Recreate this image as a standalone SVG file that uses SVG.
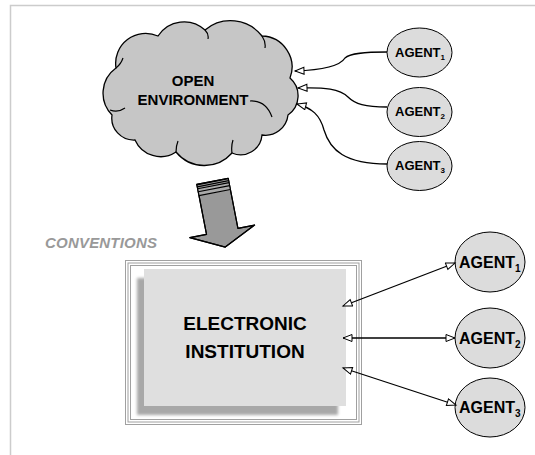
<svg xmlns="http://www.w3.org/2000/svg" width="535" height="455" viewBox="0 0 535 455">
<defs>
<style>
.lbl{font-family:"Liberation Sans",Arial,sans-serif;font-weight:bold;fill:#000}
.agT{font-size:13px}
.agB{font-size:16px}
.ag{fill:#dcdcdc;stroke:#000;stroke-width:1}
.con{fill:none;stroke:#000;stroke-width:1.3}
.frm{fill:none;stroke:#a0a0a0;stroke-width:1}
</style>
<marker id="oa" markerUnits="userSpaceOnUse" markerWidth="12" markerHeight="10" refX="10" refY="4" orient="auto-start-reverse">
<path d="M1,0.5 L10,4 L1,7.5 Z" fill="#fff" stroke="#000" stroke-width="1"/>
</marker>
<filter id="blur" x="-10%" y="-10%" width="120%" height="120%">
<feGaussianBlur stdDeviation="1.8"/>
</filter>
</defs>
<rect width="535" height="455" fill="#fff"/>
<path d="M10.5,455 L10.5,5.5 L535,5.5" fill="none" stroke="#cccccc" stroke-width="1.5"/>

<g id="open-environment">
<path d="M112,115 A31 31 0 0 1 116,68 A30 30 0 0 1 158,36 A31 31 0 0 1 205,30 A40 40 0 0 1 262,36 A31 31 0 0 1 290,78 A23.5 23.5 0 0 1 288,115 A22.7 22.7 0 0 1 262,135 A21.5 21.5 0 0 1 232,153 A36.7 36.7 0 0 1 176,152 A28 28 0 0 1 135,140 A22 22 0 0 1 112,115 Z" fill="#c6c6c6" stroke="#000" stroke-width="1.3"/>
<path d="M250,101 Q266,100 272,117 M110,110 Q118,113 125,108 M116,68 Q121,64 123,58 M205,30 Q209,34 208,39 M262,36 Q266,42 265,48 M176,152 Q176,146 178,141 M232,153 Q231,146 233,140" fill="none" stroke="#000" stroke-width="1.2"/>
<text class="lbl" x="193" y="86" font-size="15" text-anchor="middle">OPEN</text>
<text class="lbl" x="193" y="105" font-size="15" text-anchor="middle">ENVIRONMENT</text>
</g>

<g id="agent-top-1">
<ellipse class="ag" cx="419.5" cy="52.5" rx="32.5" ry="24.5"/>
<text class="lbl agT" x="395" y="56.5">AGENT<tspan font-size="8" dy="3">1</tspan></text>
</g>
<g id="agent-top-2">
<ellipse class="ag" cx="419.5" cy="112" rx="32.5" ry="24.5"/>
<text class="lbl agT" x="395" y="116">AGENT<tspan font-size="8" dy="3">2</tspan></text>
</g>
<g id="agent-top-3">
<ellipse class="ag" cx="419.5" cy="166" rx="32.5" ry="24.5"/>
<text class="lbl agT" x="395" y="170">AGENT<tspan font-size="8" dy="3">3</tspan></text>
</g>

<g id="conventions-arrow">
<g transform="translate(212.5,181.3) rotate(-11)">
<path d="M-16,0 L16,0 L16,51 L33,51 L0,67 L-33,51 L-16,51 Z" fill="#999" stroke="#000" stroke-width="1.2" stroke-linejoin="round"/>
<rect x="-16" y="0" width="32" height="12" fill="#aaa"/>
<path d="M-16,0.5 H16 M-16,2.5 H16 M-16,4.5 H16 M-16,7.5 H16 M-16,11.5 H16" stroke="#000" stroke-width="1.2"/>
<path d="M-16,0 L16,0 L16,51 L33,51 L0,67 L-33,51 L-16,51 Z" fill="none" stroke="#000" stroke-width="1.2" stroke-linejoin="round"/>
</g>
<text x="45" y="247.5" font-family="Liberation Sans, Arial, sans-serif" font-weight="bold" font-style="italic" font-size="15" fill="#999" textLength="112">CONVENTIONS</text>
</g>

<g id="electronic-institution">
<rect x="125.5" y="260.5" width="236" height="164" fill="#fff" class="frm"/>
<rect x="128" y="263" width="231" height="159" class="frm"/>
<rect x="130.5" y="265.5" width="226" height="154" class="frm"/>
<rect x="137" y="278" width="201" height="137" fill="#a8a8a8" filter="url(#blur)"/>
<rect x="144" y="269" width="202" height="137" fill="#dfdfdf"/>
<text class="lbl" x="245" y="330" font-size="19" text-anchor="middle">ELECTRONIC</text>
<text class="lbl" x="245" y="358" font-size="19" text-anchor="middle">INSTITUTION</text>
</g>

<g id="agent-bottom-1">
<ellipse class="ag" cx="490" cy="262" rx="35" ry="30"/>
<text class="lbl agB" x="459" y="268">AGENT<tspan font-size="10" dy="4">1</tspan></text>
</g>
<g id="agent-bottom-2">
<ellipse class="ag" cx="490" cy="338" rx="35" ry="30"/>
<text class="lbl agB" x="459" y="344">AGENT<tspan font-size="10" dy="4">2</tspan></text>
</g>
<g id="agent-bottom-3">
<ellipse class="ag" cx="490" cy="407.5" rx="35" ry="29.5"/>
<text class="lbl agB" x="459" y="413">AGENT<tspan font-size="10" dy="4">3</tspan></text>
</g>

<g id="connectors">
<path class="con" d="M387,52 C365,52 350,53 345,58 C340,66 325,70 295,71" marker-end="url(#oa)"/>
<path class="con" d="M387,107 C365,107 355,104 348,97 C340,89 325,87 298,88" marker-end="url(#oa)"/>
<path class="con" d="M387,164 C345,164 330,150 324,130 C320,115 312,108 297,104" marker-end="url(#oa)"/>
<path class="con" d="M343,306 L455,263" marker-start="url(#oa)" marker-end="url(#oa)"/>
<path class="con" d="M343,338 L455,338" marker-start="url(#oa)" marker-end="url(#oa)"/>
<path class="con" d="M343,368 L456,405" marker-start="url(#oa)" marker-end="url(#oa)"/>
</g>
</svg>
